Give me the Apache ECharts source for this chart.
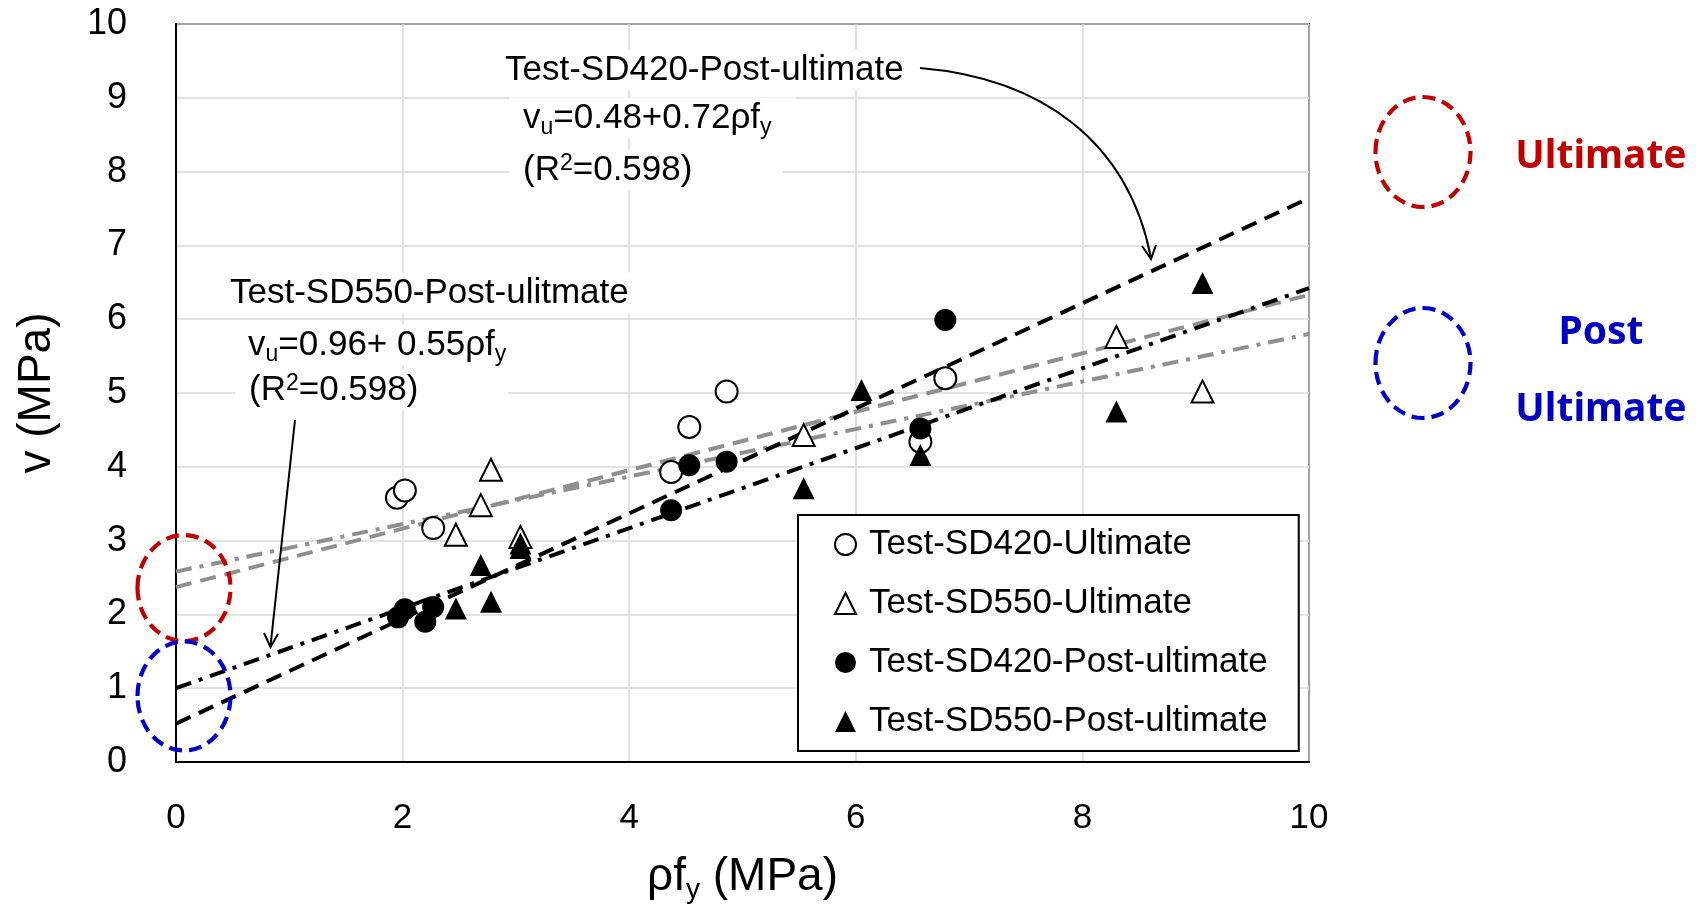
<!DOCTYPE html>
<html><head><meta charset="utf-8">
<script src="https://cdn.jsdelivr.net/npm/echarts@6/dist/echarts.min.js"></script>
<style>html,body{margin:0;padding:0;background:#fff}#c{width:1696px;height:905px}</style>
</head><body><div id="c"></div>
<script>
// ---- data ----
const sd420Ult = [[1.95,3.58],[2.02,3.68],[2.27,3.17],[4.37,3.93],[4.53,4.54],[4.86,5.02],[6.57,4.34],[6.79,5.20]];
const sd550Ult = [[2.47,3.08],[2.69,3.48],[2.78,3.96],[3.04,3.05],[5.54,4.43],[8.30,5.76],[9.06,5.02]];
const sd420Post = [[1.96,1.96],[2.02,2.07],[2.20,1.90],[2.27,2.10],[4.37,3.41],[4.53,4.02],[4.86,4.07],[6.57,4.52],[6.79,5.99]];
const sd550Post = [[2.47,2.08],[2.69,2.67],[2.78,2.17],[3.04,2.96],[3.04,2.90],[5.54,3.71],[6.05,5.04],[6.57,4.16],[8.30,4.75],[9.06,6.49]];
const fit420Post = [[0,0.52],[10,7.64]];
const fit550Post = [[0,1.00],[10,6.42]];
const fit420Ult = [[0,2.37],[10,6.33]];
const fit550Ult = [[0,2.58],[10,5.80]];
const seriesNames = ['Test-SD420-Ultimate','Test-SD550-Ultimate','Test-SD420-Post-ultimate','Test-SD550-Post-ultimate'];

const FF = '"Liberation Sans", Arial, sans-serif';
const chart = echarts.init(document.getElementById('c'), null, {renderer:'canvas'});

const lineS = (data, color, type) => ({
  type:'line', data, symbol:'none', silent:true, z:2,
  lineStyle:{color, width:4, type},
  emphasis:{disabled:true}
});
const scat = (name, data, symbol, fill) => ({
  type:'scatter', name, data, symbol, symbolSize:22, z:5,
  itemStyle:{color:fill, borderColor:'#000', borderWidth: fill==='#fff'?2:0, opacity:1},
  emphasis:{disabled:true}
});

const rt = {
  t:{fontSize:35, fontFamily:FF, fill:'#000', color:'#000', lineHeight:35, verticalAlign:'top'},
  s:{fontSize:23, fontFamily:FF, fill:'#000', color:'#000', lineHeight:23, padding:[16,0,0,0], verticalAlign:'top'},
  p:{fontSize:23, fontFamily:FF, fill:'#000', color:'#000', lineHeight:20, verticalAlign:'top'}
};
const txt = (x, y, text, padR) => ({
  type:'text', x, y, z:20,
  style:{text, rich:rt, fontSize:35, fontFamily:FF, fill:'#000', align:'left', verticalAlign:'middle',
         backgroundColor:'#fff', padding:[3, padR||14, 3, 14]}
});
const ell = (cx, cy, rx, ry, color) => ({
  type:'ellipse', z:30, shape:{cx, cy, rx, ry},
  style:{fill:null, stroke:color, lineWidth:4.2, lineDash:[13,7]}
});
const side = (x, y, text, color) => ({
  type:'text', x, y, z:30,
  style:{text, fontSize:39, fontWeight:'bold', fontFamily:'"Noto Sans", sans-serif', fill:color, align:'center', verticalAlign:'middle'}
});

chart.setOption({
  animation:false,
  backgroundColor:'#fff',
  grid:{left:176, right:387, top:24, bottom:143, outerBoundsMode:'none', containLabel:false,
        show:true, borderColor:'#000', borderWidth:2, backgroundColor:'transparent'},
  xAxis:{type:'value', min:0, max:10, interval:2,
    axisLine:{show:true, onZero:false, lineStyle:{color:'#000', width:2}},
    axisTick:{show:false},
    axisLabel:{fontSize:35, fontFamily:FF, color:'#000', margin:39},
    splitLine:{show:true, lineStyle:{color:'#d9d9d9', width:1.5}},
    name:'{t|ρf}{s|y}{t| (MPa)}', nameLocation:'middle', nameGap:92,
    nameTextStyle:{fontSize:46, fontFamily:FF, color:'#000',
      rich:{t:{fontSize:46, fontFamily:FF, color:'#000', lineHeight:46, verticalAlign:'top'},
            s:{fontSize:28, fontFamily:FF, color:'#000', lineHeight:28, padding:[22,0,0,0], verticalAlign:'top'}}}
  },
  yAxis:{type:'value', min:0, max:10, interval:1,
    axisLine:{show:true, onZero:false, lineStyle:{color:'#000', width:2}},
    axisTick:{show:false},
    axisLabel:{fontSize:36, fontFamily:FF, color:'#000', margin:49},
    splitLine:{show:true, lineStyle:{color:'#d9d9d9', width:1.5}},
    name:'v (MPa)', nameLocation:'middle', nameRotate:90, nameGap:116,
    nameTextStyle:{fontSize:46, fontFamily:FF, color:'#000'}
  },
  legend:{
    data:seriesNames, orient:'vertical', left:798, top:515,
    padding:[12,31,12,36], itemGap:24, itemWidth:21, itemHeight:21,
    borderColor:'#000', borderWidth:2, backgroundColor:'#fff',
    textStyle:{fontSize:35, fontFamily:FF, color:'#000', lineHeight:35, padding:[0,0,0,8]},
    selectedMode:false, z:15
  },
  series:[
    lineS(fit420Ult, '#8f8f8f', [16,9]),
    lineS(fit550Ult, '#8f8f8f', [16,8,4,8]),
    lineS(fit420Post, '#000', [16,9]),
    lineS(fit550Post, '#000', [16,8,4,8]),
    scat(seriesNames[0], sd420Ult, 'circle', '#fff'),
    scat(seriesNames[1], sd550Ult, 'triangle', '#fff'),
    scat(seriesNames[2], sd420Post, 'circle', '#000'),
    scat(seriesNames[3], sd550Post, 'triangle', '#000')
  ],
  graphic:[
    txt(491, 70, 'Test-SD420-Post-ultimate'),
    txt(509, 118, '{t|v}{s|u}{t|=0.48+0.72ρf}{s|y}', 24),
    txt(509, 170, '{t|(R}{p|2}{t|=0.598)}', 90),
    txt(216, 293, 'Test-SD550-Post-ulitmate'),
    txt(234, 345, '{t|v}{s|u}{t|=0.96+ 0.55ρf}{s|y}', 14),
    txt(235, 390, '{t|(R}{p|2}{t|=0.598)}', 90),
    {type:'bezierCurve', z:20, shape:{x1:920, y1:68, cpx1:1040, cpy1:78, cpx2:1128, cpy2:140, x2:1151, y2:258},
      style:{stroke:'#000', lineWidth:2, fill:null}},
    {type:'polyline', z:20, shape:{points:[[1142,246],[1151,259],[1156,245]]}, style:{stroke:'#000', lineWidth:2, fill:null}},
    {type:'line', z:20, shape:{x1:295, y1:420, x2:270.5, y2:646}, style:{stroke:'#000', lineWidth:2}},
    {type:'polyline', z:20, shape:{points:[[264,633],[270.5,647],[278,634]]}, style:{stroke:'#000', lineWidth:2, fill:null}},
    ell(184, 588, 46.5, 53, '#c00000'),
    ell(184, 696, 46.5, 54.5, '#0000c8'),
    ell(1423, 152, 47.5, 55, '#c00000'),
    ell(1423, 363, 47.5, 55, '#0000c8'),
    side(1601, 157, 'Ultimate', '#c00000'),
    side(1601, 333, 'Post', '#0000c0'),
    side(1601, 410, 'Ultimate', '#0000c0')
  ]
});
</script></body></html>
